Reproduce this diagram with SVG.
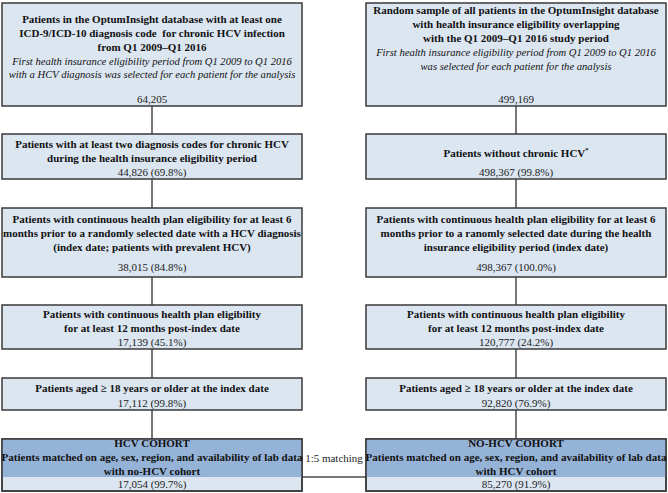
<svg xmlns="http://www.w3.org/2000/svg" width="668" height="493" viewBox="0 0 668 493">
<style>
.box{fill:#dce6f1;stroke:#3a3a3a;stroke-width:1.5}
.dark{fill:#95b3d7;stroke:none}
.out{fill:none;stroke:#3a3a3a;stroke-width:1.5}
.b{font-family:"Liberation Serif","Times New Roman",serif;font-size:11px;font-weight:bold;fill:#111;text-anchor:middle}
.i{font-family:"Liberation Serif","Times New Roman",serif;font-size:10.6px;font-style:italic;fill:#111;text-anchor:middle}
.n{font-family:"Liberation Serif","Times New Roman",serif;font-size:11px;fill:#222;text-anchor:middle}
.con line{stroke:#4a4a4a;stroke-width:1.5}
</style>
<rect width="668" height="493" fill="#fff"/>
<g class="con" id="connectors">
<line x1="152" y1="106" x2="152" y2="134"/>
<line x1="152" y1="179" x2="152" y2="208"/>
<line x1="152" y1="277" x2="152" y2="305"/>
<line x1="152" y1="349" x2="152" y2="378"/>
<line x1="152" y1="410" x2="152" y2="439"/>
<line x1="516" y1="106" x2="516" y2="134"/>
<line x1="516" y1="179" x2="516" y2="208"/>
<line x1="516" y1="277" x2="516" y2="305"/>
<line x1="516" y1="349" x2="516" y2="378"/>
<line x1="516" y1="410" x2="516" y2="439"/>
<line x1="302" y1="477" x2="366" y2="477"/>
<text class="n" x="334" y="462">1:5 matching</text>
</g>
<g id="L1">
<rect class="box" x="2" y="3" width="300" height="103"/>
<text class="b" x="152" y="23">Patients in the OptumInsight database with at least one</text>
<text class="b" x="152" y="37" xml:space="preserve">ICD-9/ICD-10 diagnosis code  for chronic HCV infection</text>
<text class="b" x="152" y="51">from Q1 2009–Q1 2016</text>
<text class="i" x="152" y="65">First health insurance eligibility period from Q1 2009 to Q1 2016</text>
<text class="i" x="152" y="78">with a HCV diagnosis was selected for each patient for the analysis</text>
<text class="n" x="152" y="103">64,205</text>
</g>
<g id="R1">
<rect class="box" x="366" y="3" width="300" height="103"/>
<text class="b" x="516" y="14">Random sample of all patients in the OptumInsight database</text>
<text class="b" x="516" y="28">with health insurance eligibility overlapping</text>
<text class="b" x="516" y="42">with the Q1 2009–Q1 2016 study period</text>
<text class="i" x="516" y="56">First health insurance eligibility period from Q1 2009 to Q1 2016</text>
<text class="i" x="516" y="70">was selected for each patient for the analysis</text>
<text class="n" x="516" y="103">499,169</text>
</g>
<g id="L2">
<rect class="box" x="2" y="134" width="300" height="45"/>
<text class="b" x="152" y="148">Patients with at least two diagnosis codes for chronic HCV</text>
<text class="b" x="152" y="162">during the health insurance eligibility period</text>
<text class="n" x="152" y="176">44,826 (69.8%)</text>
</g>
<g id="R2">
<rect class="box" x="366" y="134" width="300" height="45"/>
<text class="b" x="516" y="157">Patients without chronic HCV<tspan font-size="6.5" dy="-5">*</tspan></text>
<text class="n" x="516" y="176">498,367 (99.8%)</text>
</g>
<g id="L3">
<rect class="box" x="2" y="208" width="300" height="69"/>
<text class="b" x="152" y="223">Patients with continuous health plan eligibility for at least 6</text>
<text class="b" x="152" y="237">months prior to a randomly selected date with a HCV diagnosis</text>
<text class="b" x="152" y="251">(index date; patients with prevalent HCV)</text>
<text class="n" x="152" y="271">38,015 (84.8%)</text>
</g>
<g id="R3">
<rect class="box" x="366" y="208" width="300" height="69"/>
<text class="b" x="516" y="223">Patients with continuous health plan eligibility for at least 6</text>
<text class="b" x="516" y="237">months prior to a ranomly selected date during the health</text>
<text class="b" x="516" y="251">insurance eligibility period (index date)</text>
<text class="n" x="516" y="271">498,367 (100.0%)</text>
</g>
<g id="L4">
<rect class="box" x="2" y="305" width="300" height="44"/>
<text class="b" x="152" y="318">Patients with continuous health plan eligibility</text>
<text class="b" x="152" y="332">for at least 12 months post-index date</text>
<text class="n" x="152" y="346">17,139 (45.1%)</text>
</g>
<g id="R4">
<rect class="box" x="366" y="305" width="300" height="44"/>
<text class="b" x="516" y="318">Patients with continuous health plan eligibility</text>
<text class="b" x="516" y="332">for at least 12 months post-index date</text>
<text class="n" x="516" y="346">120,777 (24.2%)</text>
</g>
<g id="L5">
<rect class="box" x="2" y="378" width="300" height="32"/>
<text class="b" x="152" y="392">Patients aged ≥ 18 years or older at the index date</text>
<text class="n" x="152" y="407">17,112 (99.8%)</text>
</g>
<g id="R5">
<rect class="box" x="366" y="378" width="300" height="32"/>
<text class="b" x="516" y="392">Patients aged ≥ 18 years or older at the index date</text>
<text class="n" x="516" y="407">92,820 (76.9%)</text>
</g>
<g id="L6">
<rect class="box" x="2" y="439" width="300" height="52"/>
<rect class="dark" x="2" y="439" width="300" height="38"/>
<rect class="out" x="2" y="439" width="300" height="52"/>
<text class="b" x="152" y="447">HCV COHORT</text>
<text class="b" x="152" y="461">Patients matched on age, sex, region, and availability of lab data</text>
<text class="b" x="152" y="475">with no-HCV cohort</text>
<text class="n" x="152" y="488">17,054 (99.7%)</text>
</g>
<g id="R6">
<rect class="box" x="366" y="439" width="300" height="52"/>
<rect class="dark" x="366" y="439" width="300" height="38"/>
<rect class="out" x="366" y="439" width="300" height="52"/>
<text class="b" x="516" y="447">NO-HCV COHORT</text>
<text class="b" x="516" y="461">Patients matched on age, sex, region, and availability of lab data</text>
<text class="b" x="516" y="475">with HCV cohort</text>
<text class="n" x="516" y="488">85,270 (91.9%)</text>
</g>
</svg>
